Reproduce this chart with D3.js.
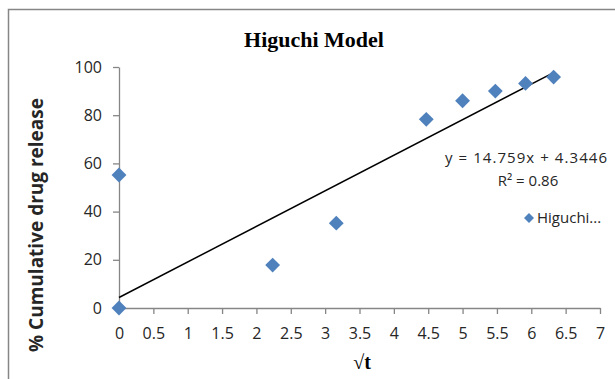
<!DOCTYPE html>
<html>
<head>
<meta charset="utf-8">
<script src="https://cdn.jsdelivr.net/npm/d3@7"></script>
<style>
  body { margin: 0; background: #fff; }
  svg { display: block; }
</style>
</head>
<body>
<svg width="615" height="379"></svg>
<script>
// values
const sqrtT = [0, 0, 2.236, 3.162, 4.472, 5, 5.477, 5.916, 6.325];
const release = [0, 55.2, 17.8, 35.2, 78.3, 86, 90, 93.2, 95.8];
const slope = 14.759;
const intercept = 4.3446;
const xTicks = [0, 0.5, 1, 1.5, 2, 2.5, 3, 3.5, 4, 4.5, 5, 5.5, 6, 6.5, 7];
const yTicks = [0, 20, 40, 60, 80, 100];

const svg = d3.select("svg");
const blue = "#4f81bd";
const axisGray = "#868686";
const labelFont = "'Open Sans', 'Liberation Sans', sans-serif";

// chart frame (cropped at right and bottom)
svg.append("rect")
    .attr("x", 8.5).attr("y", 9.5)
    .attr("width", 700).attr("height", 500)
    .attr("fill", "none")
    .attr("stroke", axisGray)
    .attr("stroke-width", 1.5);

const x = d3.scaleLinear().domain([0, 7]).range([119, 600]);
const y = d3.scaleLinear().domain([0, 100]).range([308, 67]);

const yAxis = svg.append("g")
    .attr("transform", `translate(${x(0)},0)`)
    .call(d3.axisLeft(y).tickValues(yTicks).tickSize(6).tickSizeOuter(0).tickPadding(11));

const xAxis = svg.append("g")
    .attr("transform", `translate(0,${y(0)})`)
    .call(d3.axisBottom(x).tickValues(xTicks).tickSize(6).tickSizeOuter(0).tickPadding(14)
        .tickFormat(d => String(d)));

[xAxis, yAxis].forEach(a => {
    a.select(".domain").attr("stroke", axisGray).attr("stroke-width", 1.3);
    a.selectAll(".tick line").attr("stroke", axisGray).attr("stroke-width", 1.3);
    a.selectAll(".tick text")
        .attr("fill", "#262626")
        .style("font-family", labelFont)
        .style("font-size", "16px");
});

// trendline
const x0 = 0, x1 = d3.max(sqrtT);
svg.append("line")
    .attr("x1", x(x0)).attr("y1", y(slope * x0 + intercept))
    .attr("x2", x(x1)).attr("y2", y(slope * x1 + intercept))
    .attr("stroke", "#000")
    .attr("stroke-width", 1.5);

// points
const diamond = d3.symbol().type(d3.symbolSquare).size(110);
svg.append("g")
    .selectAll("path")
    .data(sqrtT.map((v, i) => [v, release[i]]))
    .join("path")
    .attr("d", diamond)
    .attr("transform", d => `translate(${x(d[0])},${y(d[1])}) rotate(45)`)
    .attr("fill", blue);

// title
svg.append("text")
    .attr("x", 314).attr("y", 47)
    .attr("text-anchor", "middle")
    .style("font-family", "'Liberation Serif', 'DejaVu Serif', serif")
    .style("font-weight", "bold")
    .style("font-size", "22px")
    .text("Higuchi Model");

// axis titles
svg.append("text")
    .attr("transform", "translate(43,225) rotate(-90)")
    .attr("text-anchor", "middle")
    .style("font-family", labelFont)
    .style("font-weight", "bold")
    .style("font-size", "19px")
    .attr("fill", "#262626")
    .text("% Cumulative drug release");

svg.append("text")
    .attr("x", 362).attr("y", 369)
    .attr("text-anchor", "middle")
    .style("font-family", "'Liberation Serif', serif")
    .style("font-weight", "bold")
    .style("font-size", "20px")
    .text("√t");

// equation
const eq = svg.append("g")
    .style("font-family", labelFont)
    .style("font-size", "15px")
    .attr("fill", "#262626");
eq.append("text")
    .attr("x", 607).attr("y", 163)
    .attr("text-anchor", "end")
    .attr("textLength", 162)
    .text(`y = ${slope}x + ${intercept}`);
eq.append("text")
    .attr("x", 528).attr("y", 186)
    .attr("text-anchor", "middle")
    .text("R² = 0.86");

// legend
svg.append("path")
    .attr("d", d3.symbol().type(d3.symbolSquare).size(50))
    .attr("transform", "translate(529,218) rotate(45)")
    .attr("fill", blue);
svg.append("text")
    .attr("x", 537).attr("y", 223)
    .style("font-family", labelFont)
    .style("font-size", "15px")
    .attr("fill", "#262626")
    .text("Higuchi...");
</script>
</body>
</html>
